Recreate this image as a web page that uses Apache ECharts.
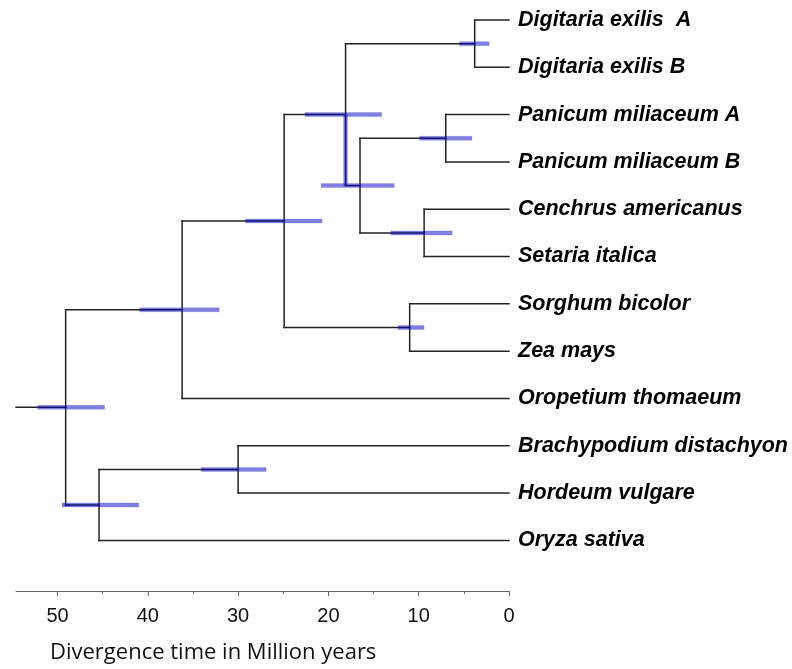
<!DOCTYPE html>
<html>
<head>
<meta charset="utf-8">
<script src="https://cdn.jsdelivr.net/npm/echarts@6/dist/echarts.min.js"></script>
<style>
    html, body { margin: 0; padding: 0; background: #fff; }
    #chart { width: 792px; height: 669px; }
</style>
</head>
<body>
<div id="chart"></div>
<script>
// 叶子（物种名），从上到下
const leafNames = [
    "Digitaria exilis  A",
    "Digitaria exilis B",
    "Panicum miliaceum A",
    "Panicum miliaceum B",
    "Cenchrus americanus",
    "Setaria italica",
    "Sorghum bicolor",
    "Zea mays",
    "Oropetium thomaeum",
    "Brachypodium distachyon",
    "Hordeum vulgare",
    "Oryza sativa",
];

// 内部节点：分化时间（百万年）与置信区间
const nodeAges = [3.8, 7.0, 9.4, 16.5, 18.1, 11.0, 24.9, 36.2, 30.0, 45.4, 49.1];
const nodeHpdLow = [2.2, 4.1, 6.3, 12.7, 14.1, 9.4, 20.7, 32.1, 26.9, 41.0, 44.8];
const nodeHpdHigh = [5.5, 9.9, 13.1, 20.8, 22.6, 12.3, 29.2, 40.9, 34.1, 49.5, 52.2];
// 子节点：L = 叶子, N = 内部节点
const nodeChildren = [
    ["L0", "L1"],
    ["L2", "L3"],
    ["L4", "L5"],
    ["N1", "N2"],
    ["N0", "N3"],
    ["L6", "L7"],
    ["N4", "N5"],
    ["N6", "L8"],
    ["L9", "L10"],
    ["N8", "L11"],
    ["N7", "N9"],
];
const rootNode = 10;
const rootStemAge = 54.6; // 根枝起点，也是坐标轴最左端
// 竖直方向的置信区间条（从一个节点画到另一个节点）
const hpdLinks = [["N4", "N3"]];

// 坐标轴刻度
const majorTicks = [0, 10, 20, 30, 40, 50];
const minorTicks = [5, 15, 25, 35, 45];
const axisTitle = "Divergence time in Million years";

/**
 * 取一个节点的时间
 */
function getAge(id) {
    return id[0] === "L" ? 0 : nodeAges[+id.slice(1)];
}

/**
 * 取一个节点的纵坐标（内部节点取子节点的平均）
 */
const yCache = {};
function getY(id) {
    if (yCache[id] !== undefined) return yCache[id];
    let y;
    if (id[0] === "L") {
        y = +id.slice(1);
    } else {
        const kids = nodeChildren[+id.slice(1)];
        y = kids.reduce((s, k) => s + getY(k), 0) / kids.length;
    }
    yCache[id] = y;
    return y;
}

// 生成树枝线段 [x1, y1, x2, y2]
const segments = [];
nodeChildren.forEach((kids, i) => {
    const age = nodeAges[i];
    const ys = kids.map(getY);
    // 竖线
    segments.push([age, Math.min(...ys), age, Math.max(...ys)]);
    // 横线
    kids.forEach(k => {
        segments.push([age, getY(k), getAge(k), getY(k)]);
    });
});
segments.push([rootStemAge, getY("N" + rootNode), nodeAges[rootNode], getY("N" + rootNode)]);

// 置信区间条 [low, high, y]
const hpdBars = nodeAges.map((a, i) => [nodeHpdLow[i], nodeHpdHigh[i], getY("N" + i)]);
const hpdVertical = hpdLinks.map(([a, b]) => [getAge(a), getY(a), getY(b)]);

// 叶子标签 [x, y, index]
const leafData = leafNames.map((n, i) => [0, i, i]);

const chart = echarts.init(document.getElementById("chart"));

const gridBox = { left: 16, right: 283, top: 20, bottom: 78 };

const option = {
    animation: false,
    // 第二个 grid 只用来画次刻度
    grid: [Object.assign({}, gridBox), Object.assign({}, gridBox)],
    xAxis: [
        {
            type: "value",
            gridIndex: 0,
            inverse: true,
            min: 0,
            max: rootStemAge,
            position: "bottom",
            splitLine: { show: false },
            axisLine: { show: true, onZero: false, lineStyle: { color: "#666", width: 1 } },
            axisTick: { show: true, customValues: majorTicks, length: 5, lineStyle: { color: "#666" } },
            axisLabel: {
                customValues: majorTicks,
                margin: 15,
                color: "#111",
                fontSize: 20,
                fontFamily: "Liberation Sans",
            },
        },
        {
            type: "value",
            gridIndex: 1,
            inverse: true,
            min: 0,
            max: rootStemAge,
            position: "bottom",
            splitLine: { show: false },
            axisLine: { show: false, onZero: false },
            axisTick: { show: true, customValues: minorTicks, length: 3, lineStyle: { color: "#666" } },
            axisLabel: { show: false },
        },
    ],
    yAxis: [
        { type: "value", gridIndex: 0, inverse: true, min: 0, max: 12.07, show: false },
        { type: "value", gridIndex: 1, inverse: true, min: 0, max: 12.07, show: false },
    ],
    graphic: [
        {
            type: "text",
            left: 50,
            top: 642,
            style: {
                text: axisTitle,
                fontSize: 22,
                fontFamily: "Open Sans",
                fill: "#111",
            },
        },
    ],
    series: [
        {
            // 树枝
            type: "custom",
            data: segments,
            z: 2,
            renderItem(params, api) {
                const p1 = api.coord([api.value(0), api.value(1)]);
                const p2 = api.coord([api.value(2), api.value(3)]);
                return {
                    type: "line",
                    shape: { x1: p1[0], y1: p1[1], x2: p2[0], y2: p2[1] },
                    style: { stroke: "#222", lineWidth: 1.5, lineCap: "square" },
                };
            },
        },
        {
            // 置信区间
            type: "custom",
            data: hpdBars,
            z: 3,
            renderItem(params, api) {
                const p1 = api.coord([api.value(0), api.value(2)]);
                const p2 = api.coord([api.value(1), api.value(2)]);
                return {
                    type: "rect",
                    shape: { x: Math.min(p1[0], p2[0]), y: p1[1] - 2, width: Math.abs(p2[0] - p1[0]), height: 4 },
                    style: { fill: "rgba(0,0,204,0.5)", stroke: "rgba(80,80,160,0.35)", lineWidth: 0.6 },
                };
            },
        },
        {
            // 竖直的置信区间条
            type: "custom",
            data: hpdVertical,
            z: 3,
            renderItem(params, api) {
                const p1 = api.coord([api.value(0), api.value(1)]);
                const p2 = api.coord([api.value(0), api.value(2)]);
                return {
                    type: "rect",
                    shape: { x: p1[0] - 2, y: p1[1], width: 4, height: p2[1] - p1[1] },
                    style: { fill: "rgba(0,0,204,0.45)", stroke: "rgba(80,80,160,0.35)", lineWidth: 0.6 },
                };
            },
        },
        {
            // 物种名
            type: "custom",
            data: leafData,
            z: 4,
            renderItem(params, api) {
                const p = api.coord([api.value(0), api.value(1)]);
                return {
                    type: "text",
                    x: p[0] + 9,
                    y: p[1],
                    style: {
                        text: leafNames[api.value(2)],
                        fontSize: 21.5,
                        fontWeight: "bold",
                        fontStyle: "italic",
                        fontFamily: "Liberation Sans",
                        fill: "#000",
                        verticalAlign: "middle",
                        align: "left",
                    },
                };
            },
        },
    ],
};

chart.setOption(option);
</script>
</body>
</html>
